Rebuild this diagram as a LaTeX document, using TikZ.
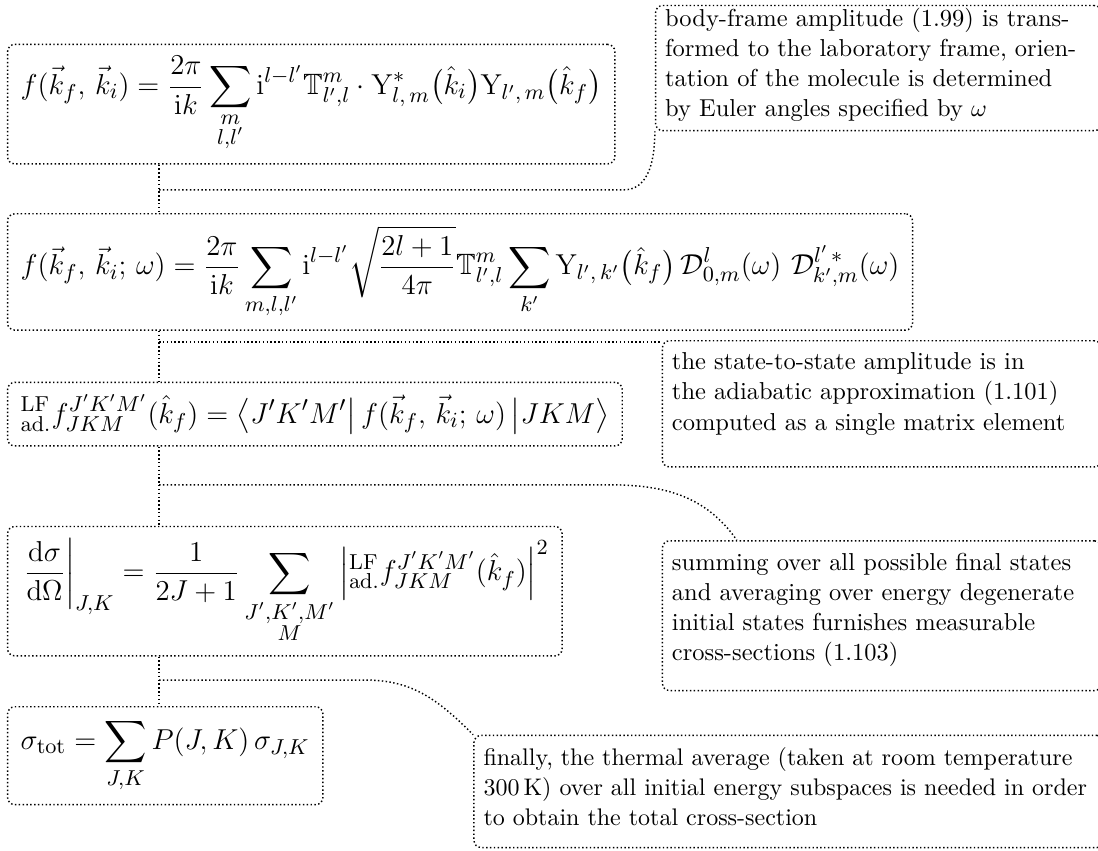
\documentclass[tikz,border=0pt]{standalone}
\usepackage{amsmath,amssymb}
\usetikzlibrary{positioning}

\tikzset{
  eqbox/.style={draw, densely dotted, line width=0.6pt, rounded corners=3pt,
    inner xsep=5.5pt, inner ysep=5pt, anchor=north west,
    font=\fontsize{12.25pt}{14.7pt}\selectfont},
  notebox/.style={draw, densely dotted, line width=0.6pt, rounded corners=3pt,
    inner xsep=4pt, inner ysep=5pt, anchor=north west, align=left,
    font=\fontsize{10.2pt}{12.6pt}\selectfont},
  link/.style={densely dotted, line width=0.6pt}
}

\begin{document}
\begin{tikzpicture}

    \useasboundingbox (0,0) rectangle (16.08,-12.45);

    % --- formulas ---
    \node[eqbox] (ampBF) at (0.10,-0.64)
        {$\displaystyle f(\vec{k}_f,\, \vec{k}_i) = \frac{2\pi}{\mathrm{i}k}
        \sum_{\substack{m\\ l,l'}} \mathrm{i}^{l-l'}\mathbb{T}^{m}_{l',l}\cdot
        \mathrm{Y}^{*}_{l,\,m}\bigl(\hat{k}_i\bigr)\mathrm{Y}_{l',\,m}\bigl(\hat{k}_f\bigr)$};
    \node[eqbox] (ampLF) at (0.10,-3.12)
        {$\displaystyle f(\vec{k}_f,\, \vec{k}_i;\, \omega) = \frac{2\pi}{\mathrm{i}k}
        \sum_{m,l,l'} \mathrm{i}^{l-l'}\sqrt{\frac{2l+1}{4\pi}}\mathbb{T}^{m}_{l',l}
        \sum_{k'} \mathrm{Y}_{l',\,k'}\bigl(\hat{k}_f\bigr)\,\mathcal{D}^{l}_{0,m}(\omega)\ 
        \mathcal{D}^{l'\,*}_{k',m}(\omega)$};
    \node[eqbox] (ampAd) at (0.10,-5.59)
        {$\displaystyle {}^{\mathrm{LF}}_{\mathrm{ad.}}f^{J'K'M'}_{JKM}(\hat{k}_f) =
        \bigl\langle J'K'M'\bigr|\, f(\vec{k}_f,\, \vec{k}_i;\, \omega)\,\bigl|JKM\bigr\rangle$};
    \node[eqbox] (dcs) at (0.10,-7.70)
        {$\displaystyle \left.\frac{\mathrm{d}\sigma}{\mathrm{d}\Omega}\right|_{J,K}
        = \frac{1}{2J+1}\sum_{\substack{J',K',M'\\ M}}
        \left|{}^{\mathrm{LF}}_{\mathrm{ad.}}f^{J'K'M'}_{JKM}(\hat{k}_f)\right|^2$};
    \node[eqbox] (tcs) at (0.10,-10.34)
        {$\displaystyle \sigma_{\mathrm{tot}} = \sum_{J,K} P(J,K)\,\sigma_{J,K}$};

    % --- notas ---
    \node[notebox, inner ysep=1pt, text depth=42.5pt, text width=6.25cm] (noteBF)
        at (9.59,-0.07)
        {body-frame amplitude (1.99) is trans-\\
         formed to the laboratory frame, orien-\\
         tation of the molecule is determined\\
         by Euler angles specified by $\omega$};
    \node[notebox, text depth=35.5pt, text width=6.15cm] (noteAd) at (9.69,-4.98)
        {the state-to-state amplitude is in\\
         the adiabatic approximation (1.101)\\
         computed as a single matrix element};
    \node[notebox, text depth=45.2pt, text width=6.15cm] (noteDcs) at (9.69,-7.91)
        {summing over all possible final states\\
         and averaging over energy degenerate\\
         initial states furnishes measurable\\
         cross-sections (1.103)};
    \node[notebox, font=\fontsize{10pt}{12.6pt}\selectfont, text depth=29.2pt,
        text width=8.95cm] (noteTcs) at (6.93,-10.76)
        {finally, the thermal average (taken at room temperature\\
         300\,K) over all initial energy subspaces is needed in order\\
         to obtain the total cross-section};

    % --- conectores ---
    \coordinate (spine) at (2.33,0);
    \draw[link] (ampBF.south -| spine) -- (ampLF.north -| spine);
    \draw[link] (ampLF.south -| spine) -- (ampAd.north -| spine);
    \draw[link] (ampAd.south -| spine) -- (dcs.north -| spine);
    \draw[link] (dcs.south -| spine) -- (tcs.north -| spine);

    \coordinate (brBF)  at (2.33,-2.78);
    \coordinate (brAd)  at (2.33,-5.01);
    \coordinate (brDcs) at (2.33,-7.10);
    \coordinate (brTcs) at (2.33,-9.96);

    \draw[link] (brBF) -- ([xshift=-0.45cm]brBF -| noteBF.west)
        to[out=0,in=-90] (noteBF.south west);
    \draw[link] (brAd) -- (brAd -| noteAd.west);
    \draw[link] (brDcs) -- ++(6.60,0)
        to[out=0,in=125] ([xshift=1.1cm]noteDcs.north west);
    \draw[link] (brTcs) -- ++(3.04,0)
        to[out=0,in=135] (noteTcs.north west);

\end{tikzpicture}
\end{document}
